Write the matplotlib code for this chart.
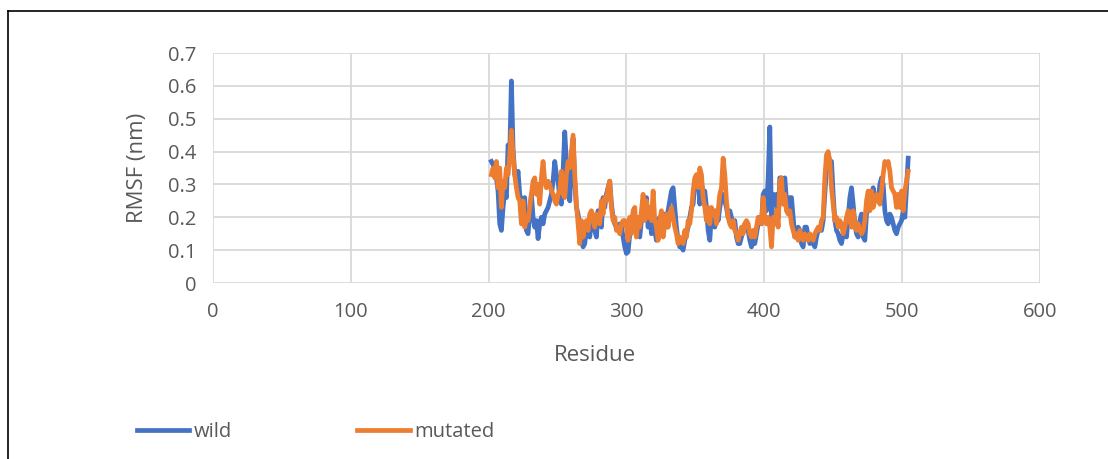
import numpy as np
import matplotlib
matplotlib.use("Agg")
import matplotlib.pyplot as plt
from matplotlib.lines import Line2D

# RMSF per residue (about one sample per 1.2 residues)
RESIDUE_FIRST = 202.0
RESIDUE_LAST = 504.4

wild = [
    # 202-249
    0.37, 0.36, 0.35, 0.32, 0.28, 0.18, 0.16, 0.23, 0.28, 0.26, 0.42, 0.39, 0.615, 0.41, 0.33, 0.31,
    0.34, 0.27, 0.25, 0.21, 0.26, 0.16, 0.15, 0.21, 0.27, 0.20, 0.17, 0.19, 0.135, 0.18, 0.20, 0.18,
    0.21, 0.22, 0.23, 0.25, 0.27, 0.31, 0.37, 0.33,
    # 250-300
    0.31, 0.26, 0.24, 0.34, 0.46, 0.37, 0.30, 0.25, 0.37, 0.44, 0.31, 0.23, 0.21, 0.17, 0.13, 0.11,
    0.12, 0.16, 0.17, 0.14, 0.19, 0.18, 0.16, 0.14, 0.22, 0.18, 0.17, 0.26, 0.23, 0.27, 0.29, 0.31,
    0.24, 0.20, 0.18, 0.17, 0.16, 0.18, 0.17, 0.14, 0.11, 0.09,
    # 301-349
    0.095, 0.15, 0.17, 0.21, 0.19, 0.15, 0.17, 0.14, 0.19, 0.25, 0.21, 0.26, 0.17, 0.22, 0.15, 0.19,
    0.16, 0.13, 0.19, 0.20, 0.18, 0.15, 0.21, 0.17, 0.22, 0.25, 0.28, 0.29, 0.23, 0.17, 0.13, 0.11,
    0.11, 0.10, 0.13, 0.15, 0.17, 0.20, 0.23, 0.24, 0.30,
    # 351-398
    0.32, 0.33, 0.24, 0.30, 0.28, 0.28, 0.23, 0.16, 0.13, 0.21, 0.19, 0.17, 0.22, 0.19, 0.23, 0.26,
    0.27, 0.25, 0.23, 0.20, 0.22, 0.20, 0.17, 0.19, 0.14, 0.12, 0.12, 0.14, 0.16, 0.18, 0.17, 0.16,
    0.13, 0.11, 0.13, 0.12, 0.15, 0.18, 0.20, 0.18,
    # 399-448
    0.27, 0.28, 0.22, 0.32, 0.475, 0.19, 0.27, 0.24, 0.27, 0.20, 0.32, 0.32, 0.30, 0.32, 0.25, 0.23,
    0.26, 0.26, 0.20, 0.14, 0.14, 0.17, 0.16, 0.12, 0.11, 0.17, 0.17, 0.14, 0.12, 0.13, 0.12, 0.11,
    0.14, 0.16, 0.17, 0.16, 0.19, 0.27, 0.35, 0.39, 0.37,
    # 449-504
    0.37, 0.27, 0.19, 0.16, 0.15, 0.13, 0.12, 0.15, 0.16, 0.14, 0.20, 0.26, 0.29, 0.24, 0.18, 0.15,
    0.14, 0.19, 0.21, 0.14, 0.13, 0.21, 0.23, 0.25, 0.27, 0.29, 0.26, 0.27, 0.25, 0.30, 0.32, 0.30,
    0.22, 0.19, 0.18, 0.21, 0.20, 0.18, 0.16, 0.15, 0.17, 0.18, 0.19, 0.22, 0.20, 0.29, 0.38,
]

mutated = [
    # 202-249
    0.33, 0.35, 0.32, 0.37, 0.29, 0.35, 0.23, 0.31, 0.29, 0.35, 0.33, 0.39, 0.465, 0.39, 0.33, 0.29,
    0.26, 0.25, 0.18, 0.25, 0.17, 0.20, 0.19, 0.23, 0.27, 0.31, 0.32, 0.27, 0.30, 0.24, 0.32, 0.37,
    0.31, 0.29, 0.31, 0.30, 0.28, 0.27, 0.25, 0.24,
    # 250-300
    0.27, 0.28, 0.34, 0.27, 0.26, 0.33, 0.37, 0.35, 0.40, 0.45, 0.33, 0.24, 0.18, 0.12, 0.19, 0.14,
    0.17, 0.19, 0.16, 0.21, 0.22, 0.19, 0.17, 0.21, 0.19, 0.18, 0.25, 0.21, 0.26, 0.25, 0.29, 0.31,
    0.23, 0.19, 0.20, 0.16, 0.17, 0.15, 0.18, 0.19, 0.19, 0.17,
    # 301-349
    0.13, 0.20, 0.15, 0.22, 0.23, 0.14, 0.20, 0.17, 0.22, 0.27, 0.19, 0.25, 0.20, 0.23, 0.19, 0.28,
    0.19, 0.17, 0.13, 0.19, 0.22, 0.14, 0.18, 0.21, 0.17, 0.21, 0.23, 0.20, 0.17, 0.15, 0.12, 0.14,
    0.13, 0.12, 0.16, 0.14, 0.19, 0.18, 0.22, 0.28, 0.32,
    # 351-398
    0.33, 0.29, 0.35, 0.33, 0.26, 0.23, 0.19, 0.23, 0.18, 0.23, 0.21, 0.22, 0.18, 0.22, 0.27, 0.29,
    0.38, 0.33, 0.25, 0.20, 0.18, 0.17, 0.19, 0.16, 0.15, 0.13, 0.15, 0.17, 0.15, 0.18, 0.19, 0.18,
    0.15, 0.14, 0.16, 0.14, 0.17, 0.20, 0.19, 0.18,
    # 399-448
    0.26, 0.20, 0.18, 0.20, 0.17, 0.11, 0.20, 0.18, 0.22, 0.17, 0.31, 0.32, 0.24, 0.27, 0.22, 0.21,
    0.22, 0.18, 0.16, 0.14, 0.15, 0.13, 0.16, 0.14, 0.13, 0.15, 0.14, 0.13, 0.15, 0.14, 0.13, 0.15,
    0.16, 0.17, 0.16, 0.19, 0.20, 0.32, 0.39, 0.40, 0.37,
    # 449-504
    0.29, 0.24, 0.19, 0.20, 0.17, 0.19, 0.18, 0.15, 0.17, 0.20, 0.22, 0.19, 0.17, 0.22, 0.18, 0.16,
    0.18, 0.16, 0.15, 0.16, 0.19, 0.25, 0.28, 0.22, 0.28, 0.23, 0.25, 0.27, 0.26, 0.24, 0.28, 0.33,
    0.37, 0.36, 0.37, 0.34, 0.29, 0.28, 0.27, 0.23, 0.27, 0.23, 0.28, 0.22, 0.28, 0.31, 0.34,
]

x_ticks = [0, 100, 200, 300, 400, 500, 600]
y_ticks = [0, 0.1, 0.2, 0.3, 0.4, 0.5, 0.6, 0.7]
y_tick_labels = ["0", "0.1", "0.2", "0.3", "0.4", "0.5", "0.6", "0.7"]

BLUE = "#4472C4"
ORANGE = "#ED7D31"
GRID = "#D9D9D9"
TEXT = "#595959"

plt.rcParams["font.family"] = ["Open Sans", "DejaVu Sans"]

residue = np.linspace(RESIDUE_FIRST, RESIDUE_LAST, len(wild))

fig = plt.figure(figsize=(11.08, 4.59), dpi=100)
ax = fig.add_axes([0.1922, 0.3834, 0.7464, 0.5011])

ax.plot(residue, wild, color=BLUE, lw=3.4, solid_joinstyle="round", label="wild")
ax.plot(residue, mutated, color=ORANGE, lw=3.4, solid_joinstyle="round", label="mutated")

ax.set_xlim(0, 600)
ax.set_ylim(0, 0.7)
ax.set_xticks(x_ticks)
ax.set_yticks(y_ticks)
ax.set_yticklabels(y_tick_labels)
ax.grid(True, color=GRID, lw=1.3)
ax.set_axisbelow(True)
for s in ax.spines.values():
    s.set_visible(False)
ax.tick_params(length=0, labelsize=14.5, labelcolor=TEXT)
ax.tick_params(axis="x", pad=14)
ax.tick_params(axis="y", pad=12)

ax.set_xlabel("Residue", fontsize=16, color=TEXT, labelpad=20)
ax.xaxis.set_label_coords(0.462, -0.27)
ax.set_ylabel("RMSF (nm)", fontsize=16, color=TEXT, labelpad=14)

fig.legend(loc="center left", bbox_to_anchor=(0.107, 0.058), ncol=2, frameon=False,
           fontsize=14.5, handlelength=2.6, handletextpad=0.25, columnspacing=6.2,
           labelcolor=TEXT)

# black frame at the top and left edge of the screenshot
fig.add_artist(Line2D([0.0072, 0.0072], [0.0, 0.976], color="black", lw=1.2,
                      transform=fig.transFigure))
fig.add_artist(Line2D([0.0072, 1.0], [0.976, 0.976], color="black", lw=1.2,
                      transform=fig.transFigure))

fig.savefig("out.png", dpi=100)
